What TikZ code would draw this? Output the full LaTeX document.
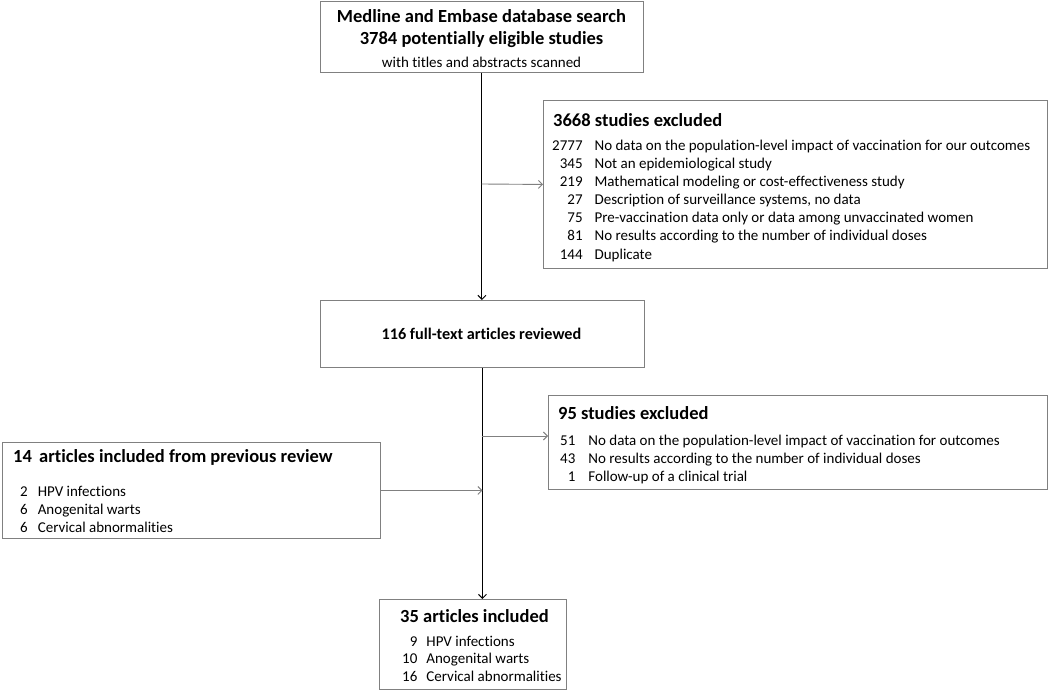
\documentclass[tikz,border=0pt]{standalone}
\usepackage{fontspec}
\setmainfont{Carlito}[Ligatures={NoCommon}]
\usetikzlibrary{arrows.meta}
\definecolor{boxgray}{RGB}{128,128,128}
\tikzset{
  box/.style={draw=boxgray, line width=0.9pt, fill=white, anchor=north west, inner sep=0pt},
  mainline/.style={draw=black, line width=1pt, -{Straight Barb[length=4pt,width=8pt]}},
  sideline/.style={draw=boxgray, line width=0.9pt, -{Straight Barb[length=4pt,width=8pt]}},
  ttl/.style={font=\fontsize{18.5}{22}\selectfont\bfseries, inner sep=0pt},
  lst/.style={font=\fontsize{15}{18.2}\selectfont, inner sep=0pt, anchor=base west, align=left}
}
\begin{document}
\begin{tikzpicture}[x=1pt,y=-1pt]
\useasboundingbox (0,0) rectangle (1050,690);
% boxes
\node[box, minimum width=323pt, minimum height=71pt] (top) at (320,1) {};
\node[box, minimum width=504pt, minimum height=168pt] (ex1) at (543,100) {};
\node[box, minimum width=324pt, minimum height=67pt] (full) at (320,300) {};
\node[box, minimum width=499pt, minimum height=94pt] (ex2) at (548,395) {};
\node[box, minimum width=378pt, minimum height=96pt] (prev) at (2,442) {};
\node[box, minimum width=187pt, minimum height=90pt] (incl) at (379,599) {};
% texts
\node[ttl] (topa) at (481.5,16) {Medline and Embase database search};
\node[ttl] (topb) at (481.5,40) {3784 potentially eligible studies};
\node[font=\fontsize{15}{17}\selectfont, inner sep=0pt] (tops) at (481.5,62) {with titles and abstracts scanned};
\node[ttl, anchor=west] (ex1t) at (553,120) {3668 studies excluded};
\node[lst] (ex1l) at (552,150) {\begin{tabular}[t]{@{}r@{\hspace{12pt}}l@{}}
2777 & No data on the population-level impact of vaccination for our outcomes\\
345 & Not an epidemiological study\\
219 & Mathematical modeling or cost-effectiveness study\\
27 & Description of surveillance systems, no data\\
75 & Pre-vaccination data only or data among unvaccinated women\\
81 & No results according to the number of individual doses\\
144 & Duplicate
\end{tabular}};
\node[font=\fontsize{16.2}{20}\selectfont\bfseries, inner sep=0pt] (fullt) at (481.5,334) {116 full-text articles reviewed};
\node[ttl, anchor=west] (ex2t) at (558,413) {95 studies excluded};
\node[lst] (ex2l) at (560,445) {\begin{tabular}[t]{@{}r@{\hspace{13pt}}l@{}}
51 & No data on the population-level impact of vaccination for outcomes\\
43 & No results according to the number of individual doses\\
1 & Follow-up of a clinical trial
\end{tabular}};
\node[ttl, anchor=west] (prevt) at (13,457) {14\,\ articles included from previous review};
\node[lst] (prevl) at (20,496) {\begin{tabular}[t]{@{}r@{\hspace{10pt}}l@{}}
2 & HPV infections\\
6 & Anogenital warts\\
6 & Cervical abnormalities
\end{tabular}};
\node[ttl, anchor=west] (inclt) at (400,616) {35 articles included};
\node[lst, font=\fontsize{15}{17.5}\selectfont] (incll) at (402,646) {\begin{tabular}[t]{@{}r@{\hspace{9pt}}l@{}}
9 & HPV infections\\
10 & Anogenital warts\\
16 & Cervical abnormalities
\end{tabular}};
% connectors
\coordinate (j1) at (481.5,184);
\coordinate (j2) at (481.5,436);
\draw[mainline] (top.south) -- (top.south |- full.north);
\draw[mainline] (full.south) -- (full.south |- incl.north);
\draw[sideline] (j1) -- (ex1.west);
\draw[sideline] (j2) -- (ex2.west |- j2);
\draw[sideline] (prev.east) -- (prev.east -| full.south);
\end{tikzpicture}
\end{document}
